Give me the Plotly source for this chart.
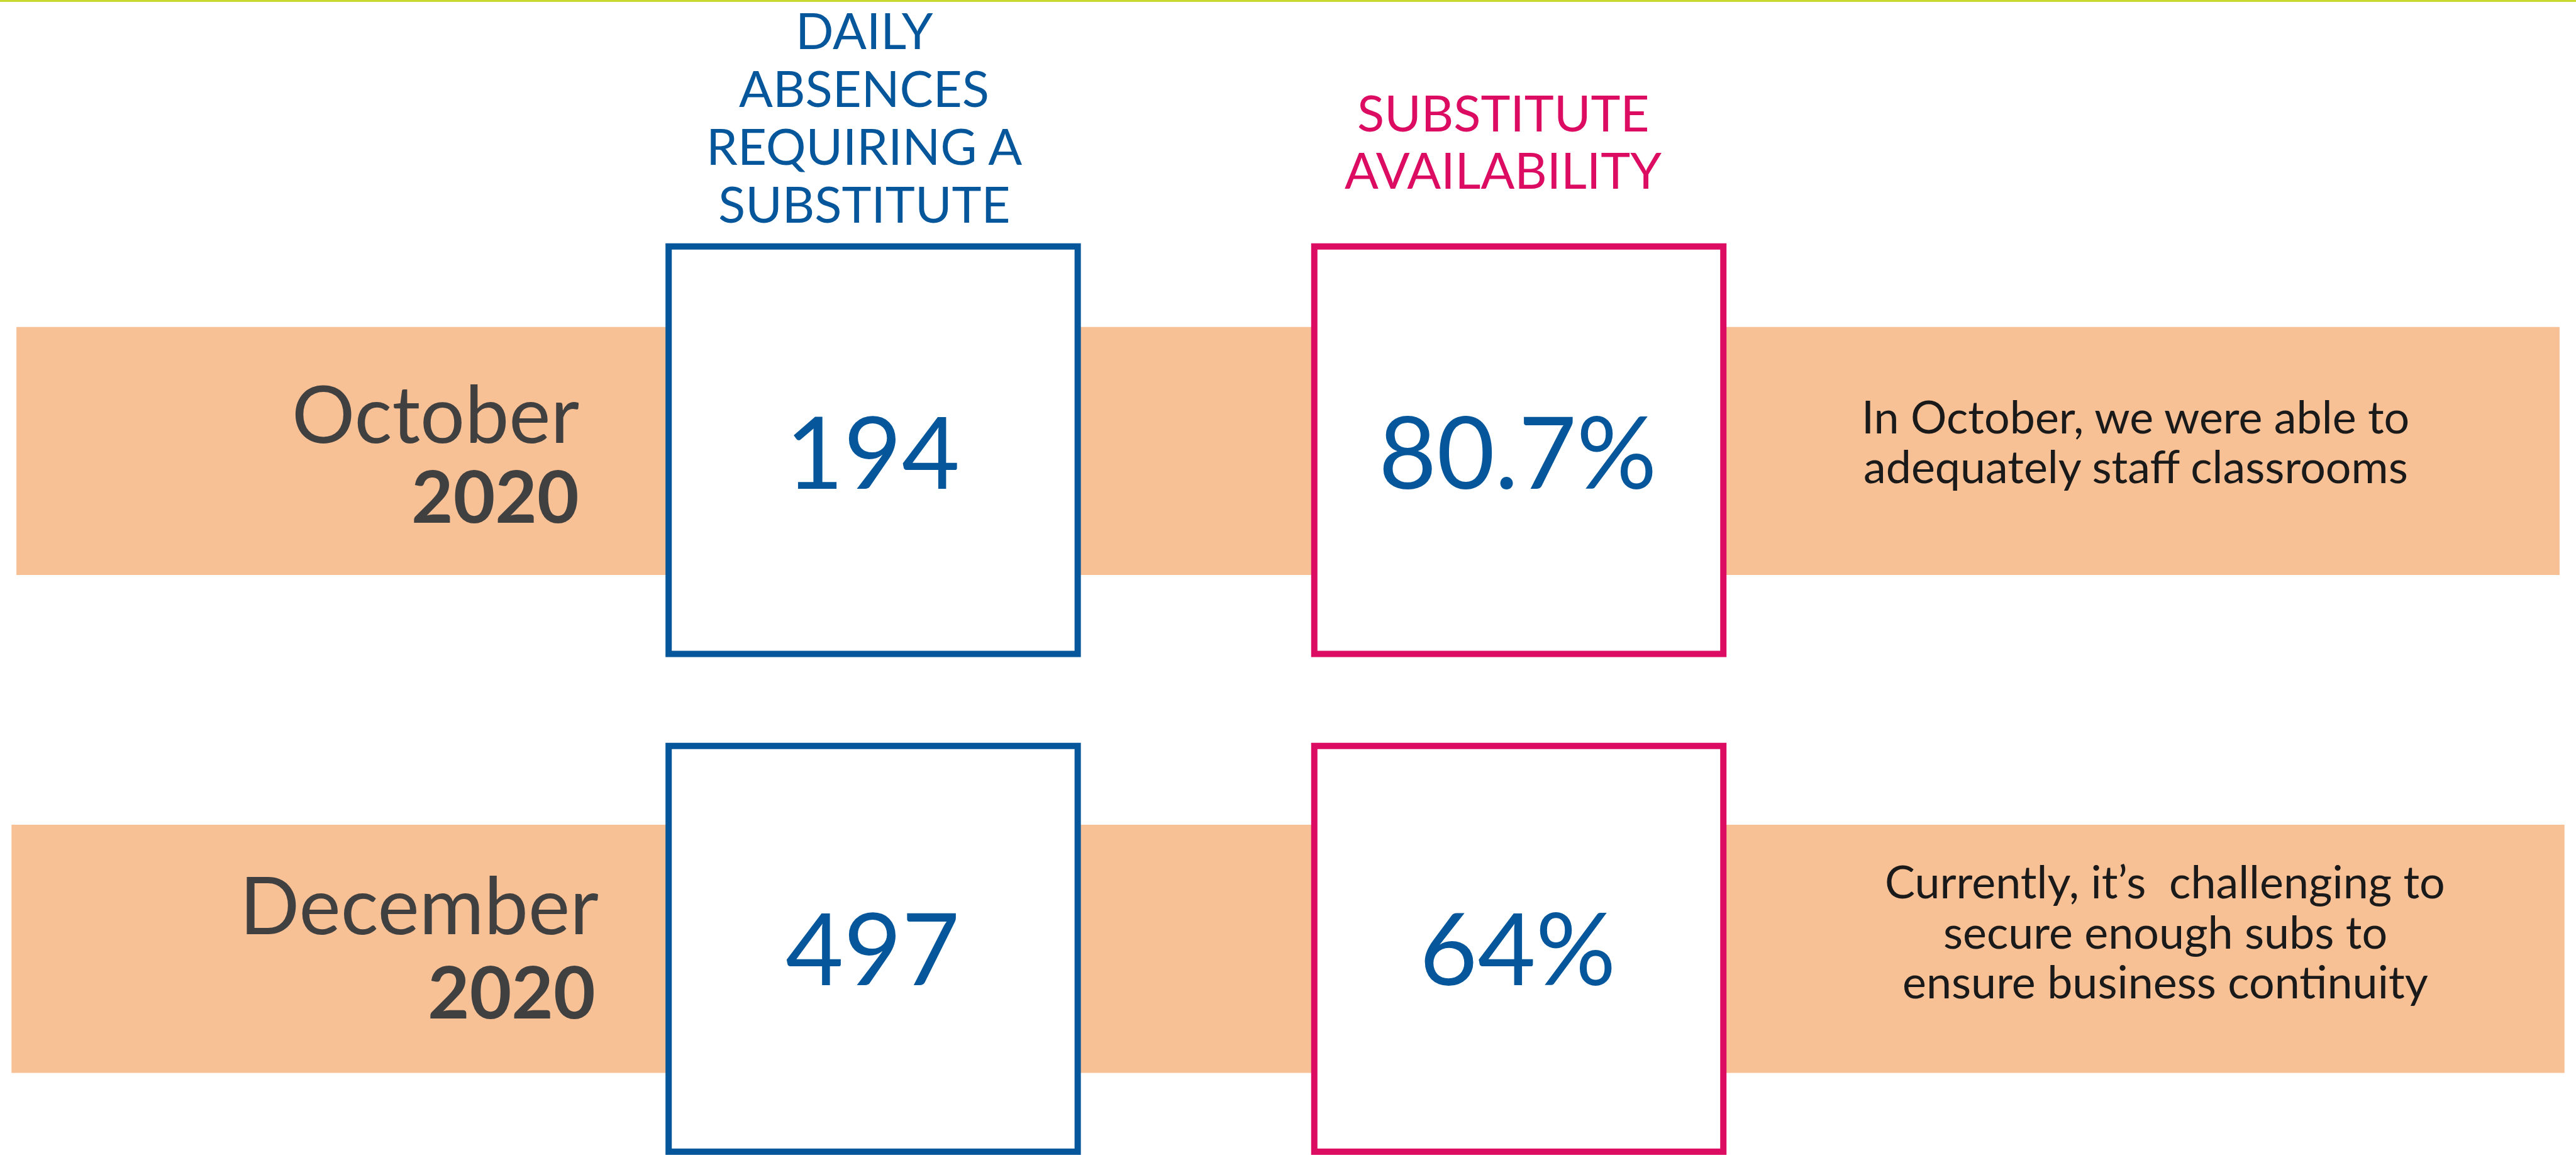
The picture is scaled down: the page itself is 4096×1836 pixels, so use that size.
import plotly.graph_objects as go

# ---- data ----
months = ["October", "December"]
years = ["2020", "2020"]
absences = ["194", "497"]
availability = ["80.7%", "64%"]
notes = [
    ["In October, we were able to", "adequately staff classrooms"],
    ["Currently, it\u2019s  challenging to", "secure enough subs to", "ensure business continuity"],
]
header_absences = ["DAILY", "ABSENCES", "REQUIRING A", "SUBSTITUTE"]
header_avail = ["SUBSTITUTE", "AVAILABILITY"]

BLUE = "#05569A"
PINK = "#DB0C61"
ORANGE = "#F8C095"
GRAY = "#404040"
GREEN = "#C8D82E"
FONT = "Lato"

S = 4096 / 1568.0  # shown px -> output px

fig = go.Figure()

shapes = []
shapes.append(dict(type="line", x0=0, x1=1568, y0=0.6, y1=0.6, line=dict(color=GREEN, width=3)))

band_y = [(199, 350), (502, 653)]
band_x = [(10, 1558), (7, 1561)]
box_y = [(150, 398), (454, 701)]
lw = 10
for i in range(2):
    shapes.append(dict(type="rect", x0=band_x[i][0], x1=band_x[i][1], y0=band_y[i][0], y1=band_y[i][1],
                       fillcolor=ORANGE, line=dict(width=0), layer="below"))
    shapes.append(dict(type="rect", x0=407, x1=656, y0=box_y[i][0], y1=box_y[i][1],
                       fillcolor="white", line=dict(color=BLUE, width=lw)))
    shapes.append(dict(type="rect", x0=800, x1=1049, y0=box_y[i][0], y1=box_y[i][1],
                       fillcolor="white", line=dict(color=PINK, width=lw)))

ann = []
def add(text, x, y, size, color, xanchor="center", bold=False):
    t = f"<b>{text}</b>" if bold else text
    ann.append(dict(x=x, y=y, xref="x", yref="y", text=t, showarrow=False,
                    xanchor=xanchor, yanchor="middle", borderpad=0,
                    font=dict(family=FONT, size=size * S, color=color)))

for k, line in enumerate(header_absences):
    add(line, 526, 18 + 35.2 * k, 30.5, BLUE)
for k, line in enumerate(header_avail):
    add(line, 915, 68 + 35 * k, 30.5, PINK)

month_y = [251, 550]
year_y = [301, 603]
month_x = [353, 365]
year_x = [353, 363]
for i in range(2):
    add(months[i], month_x[i], month_y[i], 48, GRAY, xanchor="right")
    add(years[i], year_x[i], year_y[i], 44, GRAY, xanchor="right", bold=True)
    cy = 274 if i == 0 else 576
    add(absences[i], 531, cy, 61, BLUE)
    add(availability[i], 924, cy, 61, BLUE)

note_x = [1300, 1318]
note_y0 = [253, 536]
for i in range(2):
    for k, line in enumerate(notes[i]):
        add(line, note_x[i], note_y0[i] + 30.5 * k, 27.5, "#1a1a1a")

fig.update_layout(
    width=4096, height=1836,
    margin=dict(l=0, r=0, t=0, b=0),
    paper_bgcolor="white", plot_bgcolor="white",
    xaxis=dict(range=[0, 1568], visible=False, fixedrange=True),
    yaxis=dict(range=[703, 0], visible=False, fixedrange=True),
    shapes=shapes, annotations=ann, showlegend=False,
)
fig.write_html("out.html", config={"displayModeBar": False, "staticPlot": True})

# remove default page margins so the figure fills the window exactly
with open("out.html", "r", encoding="utf-8") as f:
    html = f.read()
html = html.replace("<head>", "<head><style>html,body{margin:0;padding:0;overflow:hidden;}</style>", 1)
with open("out.html", "w", encoding="utf-8") as f:
    f.write(html)
